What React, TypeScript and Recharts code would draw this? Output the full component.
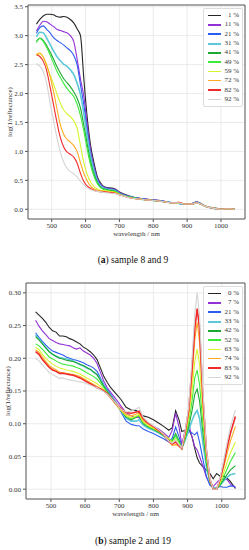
import React from 'react'
import { LineChart, Line, XAxis, YAxis, CartesianGrid, ReferenceArea } from 'recharts'

const FONT = '"Liberation Serif", "DejaVu Serif", serif'

// ---- panel (a): sample 8 and 9 ----
const WL_A = [455, 465, 475, 485, 495, 505, 515, 525, 535, 545, 555, 565, 575, 585, 595, 605, 615, 625, 635, 645, 655, 670, 685, 700, 730, 770, 820, 860, 875, 895, 915, 928, 940, 955, 975, 1000, 1020, 1040]
const LABELS_A = ['1 %', '11 %', '21 %', '31 %', '41 %', '49 %', '59 %', '72 %', '82 %', '92 %']
const A_01 = [3.20, 3.28, 3.34, 3.37, 3.37, 3.36, 3.33, 3.32, 3.33, 3.32, 3.28, 3.22, 3.12, 3.00, 2.25, 1.58, 1.10, 0.80, 0.56, 0.45, 0.39, 0.37, 0.36, 0.30, 0.23, 0.18, 0.15, 0.11, 0.10, 0.09, 0.10, 0.13, 0.10, 0.05, 0.03, 0.01, 0.01, 0.00]
const A_11 = [3.08, 3.18, 3.25, 3.24, 3.20, 3.16, 3.11, 3.09, 3.07, 3.05, 3.00, 2.90, 2.60, 2.25, 1.95, 1.45, 1.02, 0.74, 0.53, 0.43, 0.38, 0.36, 0.35, 0.29, 0.22, 0.18, 0.15, 0.11, 0.10, 0.09, 0.10, 0.13, 0.10, 0.05, 0.02, 0.00, 0.01, 0.00]
const A_21 = [3.04, 3.14, 3.17, 3.11, 3.05, 2.97, 2.92, 2.88, 2.84, 2.79, 2.74, 2.66, 2.50, 2.15, 1.80, 1.35, 0.96, 0.70, 0.51, 0.41, 0.37, 0.35, 0.34, 0.28, 0.22, 0.18, 0.15, 0.11, 0.10, 0.09, 0.10, 0.12, 0.10, 0.05, 0.02, 0.00, 0.01, 0.00]
const A_31 = [2.98, 3.06, 3.05, 2.96, 2.85, 2.74, 2.64, 2.57, 2.51, 2.47, 2.41, 2.33, 2.18, 1.98, 1.65, 1.25, 0.90, 0.66, 0.48, 0.40, 0.36, 0.34, 0.33, 0.27, 0.21, 0.17, 0.14, 0.11, 0.10, 0.09, 0.09, 0.12, 0.09, 0.05, 0.02, 0.00, 0.01, 0.00]
const A_41 = [2.90, 2.96, 2.92, 2.83, 2.72, 2.60, 2.47, 2.36, 2.26, 2.19, 2.12, 2.03, 1.92, 1.75, 1.45, 1.12, 0.82, 0.61, 0.46, 0.38, 0.35, 0.33, 0.32, 0.27, 0.21, 0.17, 0.14, 0.11, 0.11, 0.09, 0.09, 0.11, 0.09, 0.05, 0.02, 0.00, 0.01, 0.00]
const A_49 = [2.88, 2.95, 2.90, 2.80, 2.67, 2.53, 2.39, 2.28, 2.18, 2.09, 2.02, 1.95, 1.82, 1.62, 1.35, 1.03, 0.76, 0.57, 0.44, 0.37, 0.34, 0.32, 0.31, 0.26, 0.21, 0.17, 0.14, 0.11, 0.11, 0.09, 0.09, 0.11, 0.09, 0.05, 0.02, 0.00, 0.01, 0.00]
const A_59 = [2.66, 2.69, 2.63, 2.48, 2.32, 2.17, 2.00, 1.84, 1.72, 1.65, 1.60, 1.53, 1.40, 1.10, 0.80, 0.60, 0.47, 0.39, 0.35, 0.33, 0.32, 0.31, 0.30, 0.26, 0.20, 0.17, 0.14, 0.11, 0.11, 0.09, 0.09, 0.11, 0.09, 0.05, 0.02, 0.00, 0.01, 0.00]
const A_72 = [2.68, 2.70, 2.63, 2.50, 2.30, 2.05, 1.75, 1.47, 1.30, 1.21, 1.16, 1.10, 1.00, 0.80, 0.62, 0.49, 0.40, 0.35, 0.33, 0.32, 0.31, 0.30, 0.29, 0.25, 0.20, 0.17, 0.14, 0.11, 0.12, 0.09, 0.09, 0.11, 0.09, 0.05, 0.02, 0.00, 0.01, 0.00]
const A_82 = [2.67, 2.64, 2.56, 2.40, 2.12, 1.82, 1.52, 1.25, 1.08, 0.99, 0.95, 0.90, 0.80, 0.62, 0.48, 0.40, 0.36, 0.33, 0.31, 0.30, 0.30, 0.29, 0.28, 0.25, 0.20, 0.17, 0.14, 0.11, 0.12, 0.09, 0.09, 0.11, 0.09, 0.05, 0.02, 0.00, 0.01, 0.00]
const A_92 = [2.52, 2.47, 2.38, 2.18, 1.85, 1.55, 1.25, 1.00, 0.82, 0.71, 0.65, 0.61, 0.56, 0.48, 0.42, 0.37, 0.34, 0.32, 0.31, 0.30, 0.29, 0.28, 0.27, 0.25, 0.20, 0.17, 0.14, 0.11, 0.11, 0.09, 0.09, 0.11, 0.09, 0.05, 0.02, 0.00, 0.01, 0.00]
const Y_TICKS_A = [0, 0.5, 1, 1.5, 2, 2.5, 3, 3.5]

// ---- panel (b): sample 2 and 19 ----
const WL_B = [455, 465, 475, 485, 495, 505, 515, 525, 535, 545, 555, 565, 575, 585, 595, 605, 615, 625, 635, 645, 655, 665, 675, 690, 705, 720, 735, 750, 758, 770, 785, 800, 815, 830, 845, 855, 865, 875, 883, 893, 903, 913, 921, 928, 935, 945, 955, 965, 975, 985, 995, 1005, 1015, 1025, 1040]
const LABELS_B = ['0 %', '7 %', '21 %', '33 %', '42 %', '52 %', '63 %', '74 %', '83 %', '92 %']
const B_00 = [0.271, 0.266, 0.261, 0.255, 0.247, 0.242, 0.240, 0.234, 0.234, 0.233, 0.230, 0.228, 0.225, 0.222, 0.217, 0.214, 0.210, 0.205, 0.198, 0.185, 0.172, 0.163, 0.155, 0.146, 0.137, 0.125, 0.121, 0.120, 0.117, 0.112, 0.110, 0.106, 0.101, 0.096, 0.090, 0.094, 0.120, 0.106, 0.088, 0.090, 0.093, 0.080, 0.062, 0.048, 0.040, 0.034, 0.029, 0.024, 0.016, 0.024, 0.020, 0.020, 0.017, 0.012, 0.001]
const B_07 = [0.258, 0.249, 0.242, 0.236, 0.230, 0.227, 0.224, 0.222, 0.221, 0.220, 0.219, 0.216, 0.214, 0.216, 0.211, 0.208, 0.205, 0.200, 0.192, 0.178, 0.165, 0.155, 0.148, 0.138, 0.127, 0.117, 0.112, 0.110, 0.109, 0.104, 0.100, 0.096, 0.092, 0.086, 0.079, 0.090, 0.116, 0.095, 0.068, 0.090, 0.100, 0.080, 0.065, 0.060, 0.050, 0.035, 0.018, 0.008, 0.004, 0.010, 0.015, 0.015, 0.015, 0.008, 0.002]
const B_21 = [0.239, 0.232, 0.226, 0.220, 0.215, 0.211, 0.209, 0.207, 0.205, 0.202, 0.200, 0.198, 0.197, 0.195, 0.193, 0.190, 0.188, 0.185, 0.180, 0.170, 0.160, 0.152, 0.145, 0.133, 0.118, 0.104, 0.099, 0.097, 0.097, 0.092, 0.088, 0.085, 0.081, 0.077, 0.072, 0.078, 0.095, 0.080, 0.066, 0.078, 0.088, 0.086, 0.083, 0.087, 0.072, 0.045, 0.020, 0.006, 0.002, 0.002, 0.004, 0.003, 0.003, 0.005, 0.004]
const B_33 = [0.236, 0.229, 0.223, 0.216, 0.210, 0.206, 0.203, 0.201, 0.200, 0.199, 0.198, 0.196, 0.193, 0.190, 0.188, 0.185, 0.183, 0.179, 0.175, 0.168, 0.158, 0.150, 0.143, 0.132, 0.120, 0.108, 0.104, 0.104, 0.106, 0.098, 0.093, 0.090, 0.086, 0.081, 0.075, 0.074, 0.082, 0.072, 0.063, 0.075, 0.090, 0.105, 0.115, 0.120, 0.108, 0.070, 0.035, 0.012, 0.002, 0.002, 0.006, 0.012, 0.018, 0.022, 0.024]
const B_42 = [0.233, 0.228, 0.222, 0.216, 0.210, 0.206, 0.203, 0.200, 0.199, 0.197, 0.196, 0.195, 0.193, 0.191, 0.189, 0.186, 0.183, 0.179, 0.175, 0.166, 0.157, 0.149, 0.142, 0.131, 0.120, 0.110, 0.106, 0.110, 0.112, 0.100, 0.095, 0.091, 0.087, 0.082, 0.076, 0.074, 0.085, 0.074, 0.062, 0.078, 0.095, 0.120, 0.145, 0.153, 0.135, 0.085, 0.040, 0.012, 0.001, 0.001, 0.006, 0.014, 0.022, 0.029, 0.036]
const B_52 = [0.222, 0.219, 0.214, 0.208, 0.202, 0.199, 0.196, 0.193, 0.191, 0.190, 0.189, 0.188, 0.186, 0.184, 0.181, 0.178, 0.175, 0.172, 0.168, 0.162, 0.155, 0.147, 0.140, 0.130, 0.121, 0.112, 0.108, 0.111, 0.113, 0.102, 0.096, 0.092, 0.088, 0.083, 0.077, 0.073, 0.082, 0.072, 0.062, 0.080, 0.100, 0.135, 0.170, 0.182, 0.160, 0.100, 0.045, 0.012, 0.000, 0.000, 0.008, 0.018, 0.030, 0.042, 0.056]
const B_63 = [0.217, 0.213, 0.206, 0.200, 0.195, 0.191, 0.188, 0.185, 0.184, 0.182, 0.181, 0.180, 0.178, 0.176, 0.173, 0.170, 0.167, 0.164, 0.161, 0.157, 0.152, 0.146, 0.139, 0.129, 0.120, 0.112, 0.109, 0.112, 0.114, 0.103, 0.097, 0.093, 0.089, 0.084, 0.077, 0.072, 0.077, 0.069, 0.062, 0.082, 0.108, 0.150, 0.195, 0.214, 0.190, 0.115, 0.050, 0.014, 0.000, 0.000, 0.010, 0.024, 0.040, 0.055, 0.072]
const B_74 = [0.213, 0.209, 0.202, 0.195, 0.189, 0.185, 0.182, 0.179, 0.178, 0.177, 0.176, 0.175, 0.174, 0.172, 0.169, 0.166, 0.163, 0.160, 0.157, 0.154, 0.150, 0.145, 0.139, 0.130, 0.121, 0.114, 0.112, 0.115, 0.116, 0.105, 0.099, 0.094, 0.089, 0.083, 0.073, 0.067, 0.068, 0.066, 0.063, 0.085, 0.115, 0.170, 0.228, 0.255, 0.225, 0.130, 0.055, 0.015, 0.000, 0.000, 0.013, 0.032, 0.053, 0.073, 0.096]
const B_83 = [0.210, 0.206, 0.198, 0.192, 0.186, 0.182, 0.180, 0.177, 0.177, 0.176, 0.175, 0.174, 0.172, 0.170, 0.167, 0.164, 0.161, 0.158, 0.155, 0.153, 0.150, 0.146, 0.140, 0.131, 0.123, 0.117, 0.116, 0.118, 0.119, 0.108, 0.101, 0.096, 0.090, 0.084, 0.073, 0.069, 0.072, 0.066, 0.062, 0.088, 0.120, 0.185, 0.245, 0.276, 0.245, 0.140, 0.060, 0.016, 0.000, 0.000, 0.015, 0.037, 0.062, 0.085, 0.111]
const B_92 = [0.200, 0.196, 0.190, 0.184, 0.178, 0.175, 0.172, 0.169, 0.170, 0.168, 0.167, 0.166, 0.165, 0.164, 0.163, 0.161, 0.159, 0.157, 0.155, 0.152, 0.149, 0.145, 0.140, 0.131, 0.122, 0.118, 0.119, 0.123, 0.125, 0.110, 0.102, 0.097, 0.091, 0.084, 0.073, 0.070, 0.075, 0.068, 0.063, 0.090, 0.125, 0.200, 0.268, 0.300, 0.265, 0.150, 0.062, 0.017, 0.000, 0.000, 0.017, 0.042, 0.070, 0.095, 0.121]
const Y_TICKS_B = [0, 0.05, 0.1, 0.15, 0.2, 0.25, 0.3]

const X_TICKS = [500, 600, 700, 800, 900, 1000]
const COLORS = ['#262626', '#9231d6', '#2d5cf0', '#5cc8d8', '#1ea831', '#3cea3c', '#d6f531', '#ffab22', '#f02a2a', '#d4d4d4']

type PanelProps = {
  top: number
  height: number
  yAxisWidth: number
  wl: number[]
  series: number[][]
  labels: string[]
  widths: number[]
  curve: 'monotone' | 'linear'
  xDomain: [number, number]
  yDomain: [number, number]
  yTicks: number[]
  yDigits: number
  letter: string
  caption: string
  captionTop: number
}

function Panel(p: PanelProps) {
  const rows = p.wl.map((wl, i) => {
    const r: Record<string, number> = { wl }
    p.series.forEach((s, k) => { r['s' + k] = s[i] })
    return r
  })
  const plotTop = p.top + 5
  const plotBottom = p.top + p.height - 26
  const plotLeft = p.yAxisWidth
  const tick = { fontSize: 7, fill: '#333', fontFamily: FONT }

  return (
    <>
      <div style={{ position: 'absolute', left: 0, top: p.top }}>
        <LineChart width={249} height={p.height} data={rows} margin={{ top: 5, right: 4, left: 0, bottom: 0 }}>
          <CartesianGrid stroke="#e6e6e6" strokeWidth={0.8} />
          <XAxis
            type="number"
            dataKey="wl"
            domain={p.xDomain}
            ticks={X_TICKS}
            height={26}
            tick={tick}
            tickSize={3}
            tickMargin={1}
            tickLine={{ stroke: '#555' }}
            axisLine={false}
            allowDataOverflow
          />
          <YAxis
            type="number"
            domain={p.yDomain}
            ticks={p.yTicks}
            width={p.yAxisWidth}
            tick={tick}
            tickSize={3}
            tickMargin={2}
            tickLine={{ stroke: '#555' }}
            axisLine={false}
            interval={0}
            allowDataOverflow
            tickFormatter={(v: number) => v.toFixed(p.yDigits)}
          />
          {p.series.map((_, k) => (
            <Line
              key={k}
              type={p.curve}
              dataKey={'s' + k}
              stroke={COLORS[k]}
              strokeWidth={p.widths[k]}
              dot={false}
              activeDot={false}
              isAnimationActive={false}
            />
          ))}
          <ReferenceArea
            x1={p.xDomain[0]}
            x2={p.xDomain[1]}
            y1={p.yDomain[0]}
            y2={p.yDomain[1]}
            fill="none"
            stroke="#5a5a5a"
            strokeWidth={1}
            ifOverflow="extendDomain"
          />
        </LineChart>
      </div>

      {/* axis titles */}
      <div
        style={{
          position: 'absolute',
          left: p.yAxisWidth - 18,
          top: (plotTop + plotBottom) / 2,
          transform: 'translate(-50%, -50%) rotate(-90deg)',
          fontFamily: FONT,
          fontSize: 7,
          color: '#333',
          whiteSpace: 'nowrap',
        }}
      >
        log(1/reflectance)
      </div>
      <div
        style={{
          position: 'absolute',
          left: (plotLeft + 245) / 2,
          top: plotBottom + 15,
          transform: 'translate(-50%, -50%)',
          fontFamily: FONT,
          fontSize: 7,
          color: '#333',
          whiteSpace: 'nowrap',
        }}
      >
        wavelength / nm
      </div>

      {/* legend */}
      <div
        style={{
          position: 'absolute',
          left: 203,
          top: plotTop + 3,
          width: 38,
          padding: '2px 0',
          border: '1px solid #dcdcdc',
          borderRadius: 2,
          background: 'rgba(255,255,255,0.85)',
          fontFamily: FONT,
          fontSize: 7,
          color: '#333',
        }}
      >
        {p.labels.map((lab, k) => (
          <div key={lab} style={{ display: 'flex', alignItems: 'center', height: 9.3 }}>
            <div style={{ width: 13, height: p.widths[k] + 0.4, marginLeft: 4, background: COLORS[k] }} />
            <div style={{ flex: 1, textAlign: 'right', paddingRight: 3, lineHeight: '9px' }}>{lab}</div>
          </div>
        ))}
      </div>

      {/* caption */}
      <div
        style={{
          position: 'absolute',
          left: 33,
          width: 200,
          top: p.captionTop,
          transform: 'translateY(-50%)',
          textAlign: 'center',
          fontFamily: FONT,
          fontSize: 9.5,
          color: '#111',
        }}
      >
        (<b>{p.letter}</b>) {p.caption}
      </div>
    </>
  )
}

export default function App() {
  return (
    <div style={{ position: 'absolute', left: 0, top: 0, width: 249, height: 550, background: '#fff', overflow: 'hidden' }}>
      <Panel
        top={0}
        height={245}
        yAxisWidth={28}
        wl={WL_A}
        series={[A_01, A_11, A_21, A_31, A_41, A_49, A_59, A_72, A_82, A_92]}
        labels={LABELS_A}
        widths={[1.1, 1.1, 1.1, 1.6, 1.1, 1.1, 1.1, 1.1, 1.1, 1.1]}
        curve="monotone"
        xDomain={[430, 1071]}
        yDomain={[-0.168, 3.53]}
        yTicks={Y_TICKS_A}
        yDigits={1}
        letter="a"
        caption="sample 8 and 9"
        captionTop={260}
      />
      <Panel
        top={278}
        height={247}
        yAxisWidth={26}
        wl={WL_B}
        series={[B_00, B_07, B_21, B_33, B_42, B_52, B_63, B_74, B_83, B_92]}
        labels={LABELS_B}
        widths={[1.1, 1.1, 1.1, 1.6, 1.1, 1.1, 1.1, 1.1, 1.6, 1.1]}
        curve="linear"
        xDomain={[427, 1068]}
        yDomain={[-0.015, 0.315]}
        yTicks={Y_TICKS_B}
        yDigits={2}
        letter="b"
        caption="sample 2 and 19"
        captionTop={541}
      />
    </div>
  )
}
